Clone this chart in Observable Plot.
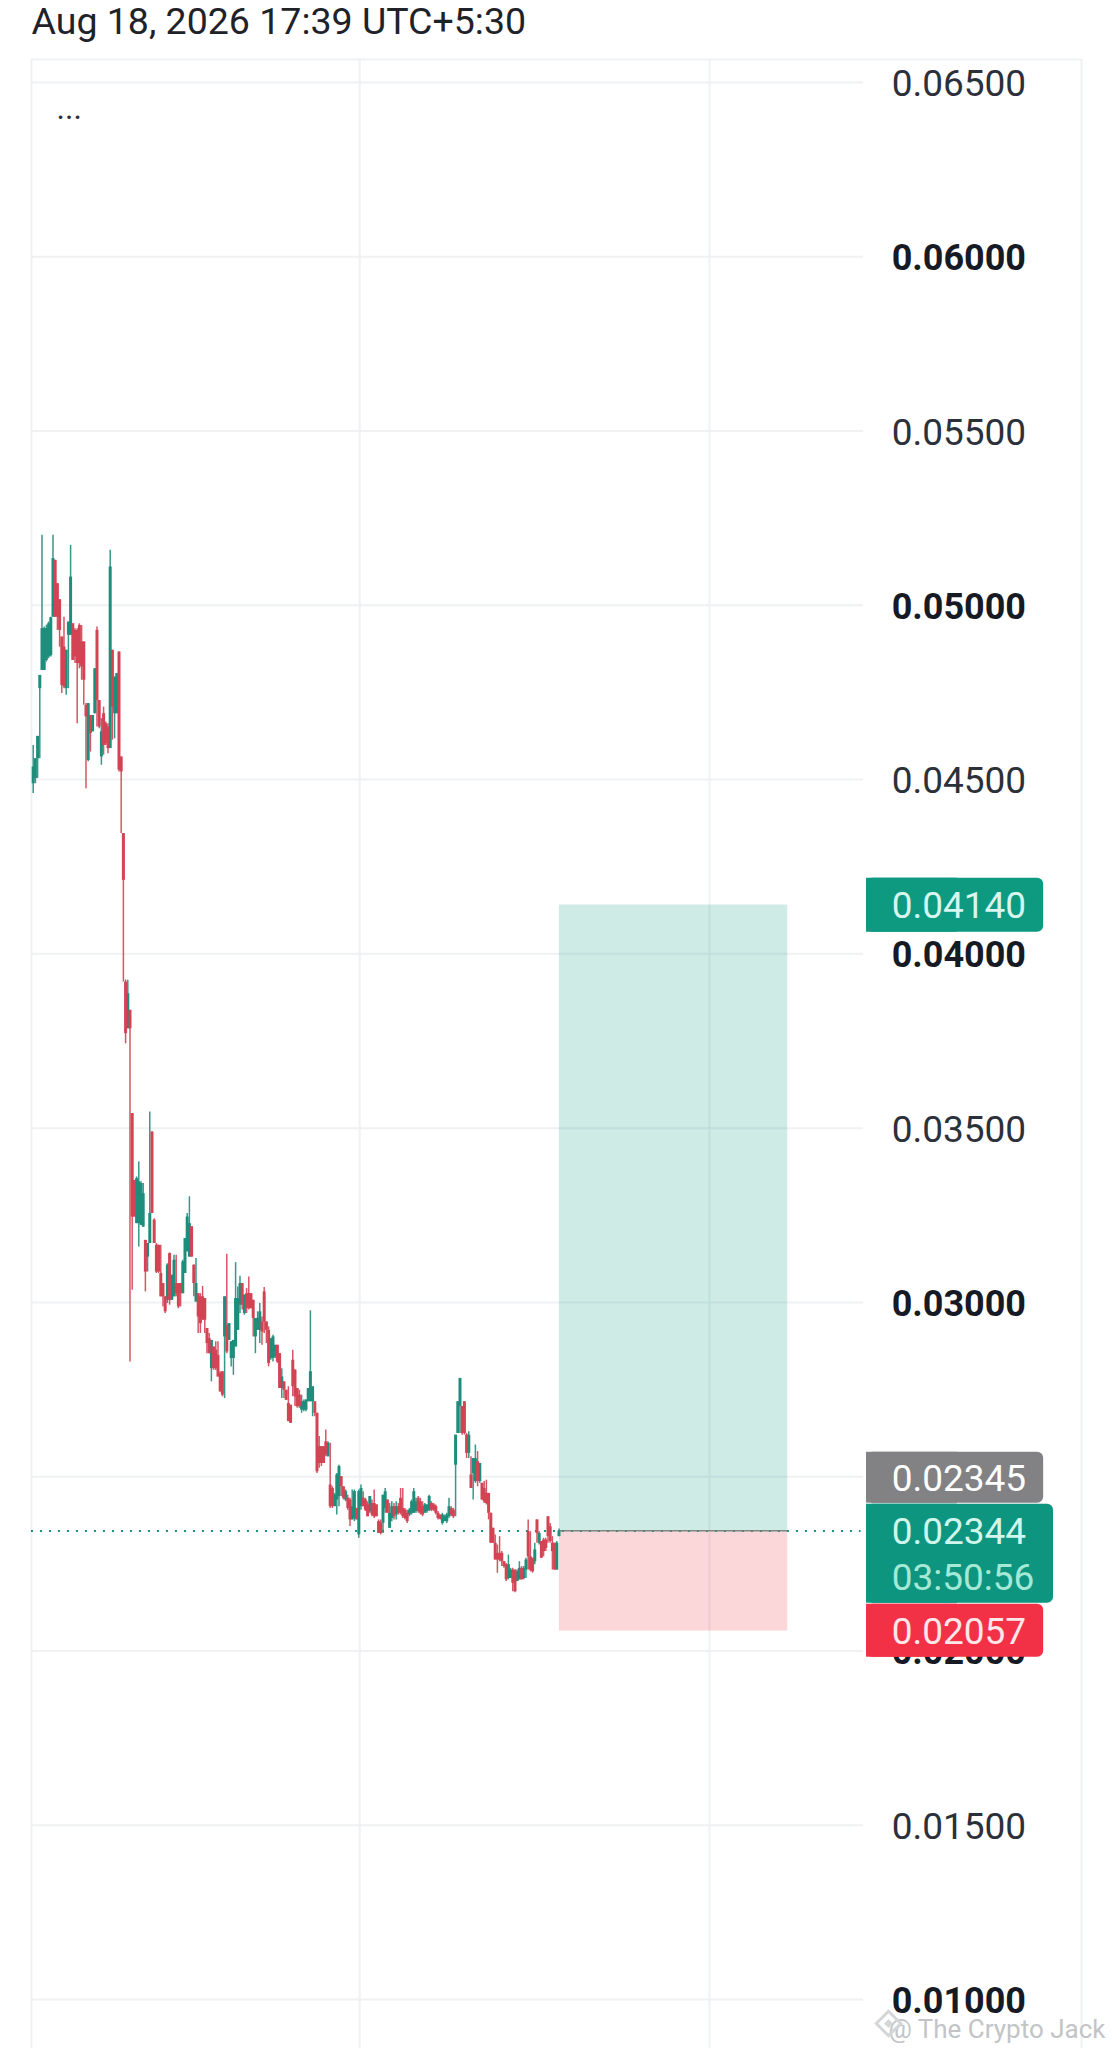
<!DOCTYPE html>
<html>
<head>
<meta charset="utf-8">
<script src="https://cdn.jsdelivr.net/npm/d3@7"></script>
<script src="https://cdn.jsdelivr.net/npm/@observablehq/plot@0.6"></script>
<style>
html,body{margin:0;padding:0;background:#fff;overflow:hidden}
svg{display:block}
</style>
</head>
<body>
<div id="chart"></div>
<script>
// Prices are in ticks of 0.00001
const tick = 0.00001;
const high = [
4598,4560,4624,4799,5201,4938,4943,4952,4966,5201,
5129,5062,5016,4909,4966,4871,4952,5172,4947,4933,
4933,4947,4942,4895,4718,4718,4684,4684,4818,4938,
4727,4675,4708,4665,4660,5158,4871,4794,4804,4866,
4565,4345,3925,3924,3838,3542,3350,3360,3403,3346,
3341,3178,3169,3546,3489,3240,3169,3164,3164,3054,
3016,3111,3142,3078,3135,3135,3054,3054,3121,3183,
3255,3303,3217,3107,3126,3025,3025,3046,3011,2925,
2911,2891,2872,2887,2887,2801,2801,3016,3138,2939,
2887,2891,3114,3044,3075,3054,3021,3040,3073,3025,
3006,2954,2973,2997,2958,3043,2944,2930,2896,2906,
2877,2877,2853,2810,2772,2748,2758,2705,2863,2806,
2753,2748,2734,2720,2720,2753,2976,2758,2715,2682,
2615,2586,2586,2634,2600,2596,2471,2452,2509,2533,
2500,2471,2462,2447,2438,2462,2462,2409,2462,2476,
2457,2438,2428,2443,2433,2462,2419,2376,2376,2447,
2466,2433,2423,2428,2423,2428,2423,2466,2466,2409,
2404,2409,2433,2466,2438,2443,2438,2428,2423,2419,
2447,2428,2423,2419,2400,2390,2395,2390,2395,2438,
2414,2409,2619,2715,2782,2701,2715,2624,2629,2557,
2552,2591,2572,2538,2481,2486,2490,2452,2395,2352,
2333,2304,2328,2285,2256,2251,2275,2237,2237,2232,
2232,2256,2242,2242,2266,2376,2342,2266,2309,2376,
2342,2314,2323,2323,2385,2366,2328,2309,2314,2350];
const low = [
4460,4488,4503,4560,4813,4813,4837,4847,4852,4966,
4966,4928,4880,4747,4761,4742,4761,4914,4842,4833,
4660,4818,4785,4713,4474,4551,4579,4637,4689,4651,
4646,4541,4570,4598,4574,4589,4613,4617,4689,4522,
4345,3919,3742,3785,2829,3035,3245,3226,3159,3221,
3216,3030,3087,3169,3255,3169,3083,3083,3016,2987,
2968,2997,2992,3006,3016,3016,2982,2987,3025,3083,
3145,3130,3130,3016,3001,2911,2911,2949,2911,2853,
2853,2772,2805,2805,2786,2743,2729,2724,2853,2891,
2815,2791,2872,2920,2968,2978,2963,2968,2978,2982,
2901,2853,2920,2882,2877,2911,2882,2815,2834,2829,
2839,2825,2753,2724,2724,2719,2658,2653,2729,2701,
2696,2696,2682,2686,2686,2715,2715,2672,2672,2509,
2524,2529,2538,2557,2557,2409,2409,2414,2390,2414,
2443,2433,2428,2404,2357,2376,2371,2376,2323,2404,
2414,2400,2385,2395,2385,2380,2385,2337,2333,2337,
2395,2395,2352,2371,2376,2376,2390,2390,2380,2376,
2366,2385,2390,2395,2395,2395,2390,2385,2395,2395,
2400,2400,2400,2390,2376,2376,2361,2371,2366,2380,
2385,2380,2385,2624,2624,2619,2619,2552,2552,2466,
2433,2481,2471,2481,2433,2423,2419,2376,2309,2309,
2261,2223,2256,2242,2237,2199,2204,2208,2170,2167,
2199,2204,2204,2204,2208,2232,2227,2223,2247,2309,
2304,2266,2270,2285,2309,2309,2232,2232,2232,2328];
const open = [
4488,4503,4560,4761,4813,4813,4842,4852,4856,4966,
5129,5062,5016,4909,4880,4761,4914,4914,4947,4928,
4928,4942,4895,4895,4713,4555,4684,4637,4689,4928,
4727,4565,4689,4660,4651,4589,4871,4689,4689,4866,
4565,4345,3919,3785,3838,3542,3350,3226,3226,3221,
3216,3178,3130,3169,3489,3236,3164,3164,3083,3054,
3016,3006,3140,3006,3016,3054,3054,3054,3025,3083,
3145,3130,3217,3107,3001,3025,3016,3016,3011,2925,
2896,2810,2872,2863,2848,2796,2801,2901,2934,2891,
2839,2839,2872,2920,2992,3054,2968,3025,3025,3025,
3006,2901,2920,2920,2944,3030,2944,2920,2839,2839,
2844,2877,2853,2753,2772,2748,2710,2705,2834,2806,
2753,2734,2691,2691,2691,2715,2715,2715,2715,2682,
2586,2586,2586,2600,2557,2476,2466,2414,2433,2443,
2500,2471,2433,2438,2433,2376,2380,2409,2333,2414,
2438,2433,2419,2400,2423,2423,2419,2371,2366,2366,
2409,2433,2352,2380,2414,2390,2414,2438,2409,2404,
2395,2390,2395,2395,2400,2438,2428,2414,2395,2400,
2404,2423,2419,2414,2395,2390,2366,2371,2371,2385,
2409,2404,2533,2624,2701,2701,2715,2619,2567,2505,
2509,2486,2543,2486,2481,2466,2452,2452,2395,2352,
2309,2280,2280,2280,2256,2247,2208,2208,2232,2232,
2199,2204,2237,2208,2232,2342,2270,2266,2256,2376,
2309,2314,2318,2318,2385,2356,2309,2309,2232,2328];
const close = [
4536,4560,4624,4799,4933,4933,4933,4947,4964,5134,
4966,4966,4928,4770,4766,4871,4952,5081,4842,4852,
4833,4833,4823,4785,4680,4718,4632,4684,4818,4727,
4651,4637,4598,4603,4589,5110,4708,4794,4804,4527,
4522,4211,3771,3886,3785,3245,3245,3355,3346,3341,
3312,3087,3169,3255,3255,3169,3087,3087,3016,3016,
2973,3107,3006,3078,3121,3025,2987,3025,3116,3183,
3245,3226,3130,3054,3054,2958,2939,2949,2949,2882,
2853,2891,2810,2810,2786,2743,2734,3016,2858,2939,
2887,2891,3011,3011,3054,2992,3021,2982,2982,2982,
2954,2954,2954,2973,2915,2944,2920,2825,2896,2901,
2877,2829,2753,2786,2748,2719,2658,2653,2758,2729,
2701,2701,2715,2715,2720,2753,2801,2758,2682,2514,
2538,2538,2538,2562,2596,2414,2414,2447,2505,2529,
2471,2438,2457,2409,2376,2414,2457,2376,2457,2466,
2414,2404,2385,2443,2390,2385,2385,2337,2337,2447,
2457,2395,2395,2414,2385,2414,2395,2395,2385,2380,
2371,2404,2428,2457,2428,2400,2395,2390,2419,2419,
2443,2404,2404,2395,2380,2378,2390,2385,2390,2414,
2390,2385,2619,2715,2782,2624,2624,2567,2619,2466,
2552,2552,2486,2538,2433,2428,2423,2395,2309,2309,
2261,2261,2261,2256,2242,2204,2247,2232,2194,2170,
2227,2237,2204,2237,2261,2270,2232,2227,2290,2337,
2337,2266,2285,2294,2328,2314,2285,2232,2309,2344];

const priceTicksRegular = [0.065, 0.055, 0.045, 0.035, 0.025, 0.015];
const priceTicksBold = [0.06, 0.05, 0.04, 0.03, 0.02, 0.01];
const timeGrid = [-0.8, 148.4, 307.4, 476.5];
const frameTop = 0.06566;
const gridEnd = 377.4, frameEnd = 476.5, labelBar = 390.2;
const tagLeft = 378.8, tagRight = 459.3, tagRightWide = 463.8, tagMid = 420;
const boxStart = 239.2, boxEnd = 343;
const entry = 0.02344, target = 0.0414, stop = 0.02057, prevEntry = 0.02345;

const up = "#1f8d7b", down = "#d24353";
const candles = high.map((h, i) => ({
  bar: i, high: h * tick, low: low[i] * tick, open: open[i] * tick, close: close[i] * tick,
  color: close[i] >= open[i] ? up : down
}));
const rises = candles.filter(d => d.color === up);
const falls = candles.filter(d => d.color === down);
const fmt = d3.format(".5f");

const tags = [
  {y1: 0.04217, y2: 0.04062, fill: "#0d9a80", right: tagRight},
  {y1: 0.02570, y2: 0.02424, fill: "#828284", right: tagRight},
  {y1: 0.02421, y2: 0.02137, fill: "#0d9580", right: tagRightWide},
  {y1: 0.02134, y2: 0.01982, fill: "#f23147", right: tagRight}
];
const tagLabels = [
  {y: target, text: "0.04140", fill: "#d6f6ee"},
  {y: 0.02495, text: "0.02345", fill: "#ffffff"},
  {y: 0.02344, text: "0.02344", fill: "#d0f7ec"},
  {y: 0.02211, text: "03:50:56", fill: "#a4e8d6"},
  {y: stop, text: "0.02057", fill: "#ffe6e8"}
];

const fig = Plot.plot({
  width: 1113, height: 2048,
  marginTop: 0, marginRight: 0, marginBottom: 0, marginLeft: 0,
  x: {domain: [-14.86, 491.05], range: [0, 1113], axis: null},
  y: {domain: [0.008594, 0.067353], range: [2048, 0], axis: null},
  style: {fontFamily: "Roboto, sans-serif", background: "#fff"},
  marks: [
    Plot.ruleY([...priceTicksRegular, ...priceTicksBold], {x1: timeGrid[0], x2: gridEnd, stroke: "#eff1f3", strokeWidth: 2, strokeOpacity: 1}),
    Plot.ruleY([frameTop], {x1: timeGrid[0], x2: frameEnd, stroke: "#eff1f3", strokeWidth: 2, strokeOpacity: 1}),
    Plot.ruleX(timeGrid, {stroke: "#eff1f3", strokeWidth: 2, strokeOpacity: 1, y1: frameTop, y2: 0.008594}),
    Plot.rect([{}], {x1: boxStart, x2: boxEnd, y1: entry, y2: target, fill: "#089981", fillOpacity: 0.2}),
    Plot.rect([{}], {x1: boxStart, x2: boxEnd, y1: stop, y2: entry, fill: "#f23645", fillOpacity: 0.2}),
    Plot.ruleY([entry], {x1: timeGrid[0], x2: tagLeft - 2.5, stroke: "#1a8f7c", strokeWidth: 2, strokeDasharray: "2,7"}),
    Plot.ruleY([prevEntry], {x1: boxStart, x2: boxEnd, stroke: "#777c7a", strokeWidth: 1.6, strokeOpacity: 0.9}),
    Plot.ruleX(rises, {x: "bar", y1: "low", y2: "high", stroke: up, strokeWidth: 1.5, strokeOpacity: 0.9}),
    Plot.ruleX(falls, {x: "bar", y1: "low", y2: "high", stroke: down, strokeWidth: 1.5, strokeOpacity: 0.9}),
    Plot.ruleX(rises, {x: "bar", y1: "open", y2: "close", stroke: up, strokeWidth: 3}),
    Plot.ruleX(falls, {x: "bar", y1: "open", y2: "close", stroke: down, strokeWidth: 3}),
    Plot.text(priceTicksRegular, {x: labelBar, y: d => d, dy: 2, text: d => fmt(d), textAnchor: "start", fontSize: 37, fill: "#2c303a"}),
    Plot.text(priceTicksBold, {x: labelBar, y: d => d, dy: 2, text: d => fmt(d), textAnchor: "start", fontSize: 36, fontWeight: 700, fill: "#161a25"}),
    Plot.rect(tags, {x1: tagLeft, x2: "right", y1: "y1", y2: "y2", fill: "fill", rx: 6}),
    Plot.rect(tags, {x1: tagLeft, x2: tagMid, y1: "y1", y2: "y2", fill: "fill"}),
    Plot.text(tagLabels, {x: labelBar, y: "y", dy: 1, text: "text", textAnchor: "start", fontSize: 37, fill: "fill"}),
    Plot.text(["Aug 18, 2026 17:39 UTC+5:30"], {frameAnchor: "top-left", dx: 31, dy: 7, lineAnchor: "top", fontSize: 37.5, fill: "#1f2229", textAnchor: "start"}),
    Plot.text(["..."], {frameAnchor: "top-left", dx: 56, dy: 96, lineAnchor: "top", fontSize: 32, fill: "#2a2e39", textAnchor: "start"}),
    Plot.text(["@ The Crypto Jack"], {frameAnchor: "bottom-right", dx: -8, dy: -11, lineAnchor: "bottom", fontSize: 26, fill: "#c2c4c6", textAnchor: "end"}),
    Plot.dot([{}], {frameAnchor: "bottom-right", dx: -225, dy: -25, symbol: "diamond2", r: 11, fill: "none", stroke: "#d4d6d8", strokeWidth: 3}),
    Plot.dot([{}], {frameAnchor: "bottom-right", dx: -225, dy: -25, symbol: "diamond2", r: 4, fill: "#d4d6d8"})
  ]
});
document.getElementById("chart").appendChild(fig);
</script>
</body>
</html>
